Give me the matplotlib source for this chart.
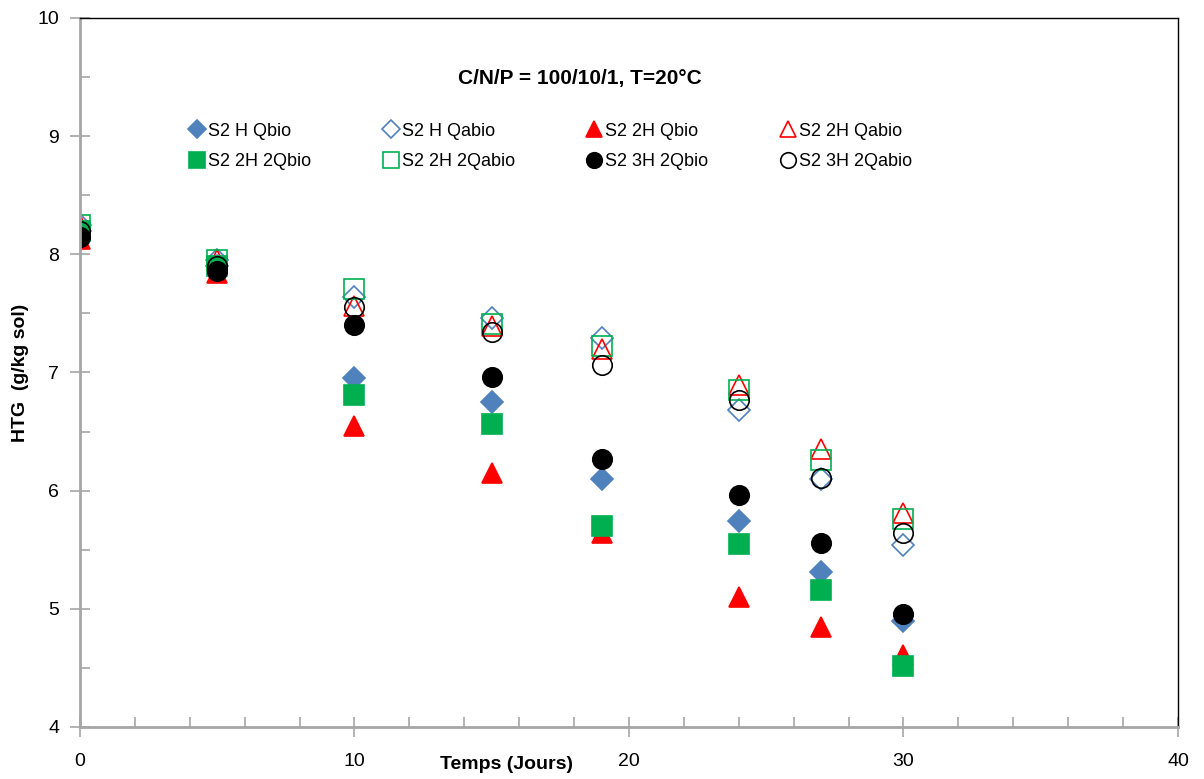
import matplotlib.pyplot as plt
from matplotlib.ticker import MultipleLocator

plt.rcParams['font.family'] = ['Liberation Sans', 'DejaVu Sans']

days = [0, 5, 10, 15, 19, 24, 27, 30]

h_qbio = [8.20, 7.90, 6.95, 6.75, 6.10, 5.74, 5.31, 4.90]
h_qabio = [8.25, 7.95, 7.64, 7.46, 7.29, 6.68, 6.10, 5.54]
h2_qbio = [8.13, 7.84, 6.55, 6.15, 5.64, 5.10, 4.85, 4.61]
h2_qabio = [8.25, 7.95, 7.56, 7.39, 7.20, 6.89, 6.35, 5.81]
h2_2qbio = [8.20, 7.90, 6.81, 6.56, 5.70, 5.55, 5.16, 4.52]
h2_2qabio = [8.25, 7.95, 7.71, 7.41, 7.22, 6.85, 6.26, 5.76]
h3_2qbio = [8.15, 7.86, 7.40, 6.96, 6.27, 5.96, 5.56, 4.96]
h3_2qabio = [8.20, 7.90, 7.55, 7.34, 7.06, 6.77, 6.11, 5.64]

blue = '#4F81BD'
red = '#FF0000'
green = '#00B050'

fig = plt.figure(figsize=(12.04, 7.79), dpi=100)
ax = fig.add_axes([0.0664, 0.0668, 0.912, 0.9102])

series = [
    ('S2 H Qbio', h_qbio, 'D', blue, blue, 11),
    ('S2 H Qabio', h_qabio, 'D', 'white', blue, 11),
    ('S2 2H Qbio', h2_qbio, '^', red, red, 14),
    ('S2 2H Qabio', h2_qabio, '^', 'white', red, 14),
    ('S2 2H 2Qbio', h2_2qbio, 's', green, green, 14),
    ('S2 2H 2Qabio', h2_2qabio, 's', 'white', green, 14),
    ('S2 3H 2Qbio', h3_2qbio, 'o', 'black', 'black', 14),
    ('S2 3H 2Qabio', h3_2qabio, 'o', 'white', 'black', 14),
]

handles = {}
for name, vals, m, fc, ec, ms in series:
    h, = ax.plot(days, vals, linestyle='none', marker=m, markersize=ms,
                 markerfacecolor=fc if fc != 'white' else 'none',
                 markeredgecolor=ec, markeredgewidth=1.2, label=name)
    handles[name] = h

order = ['S2 H Qbio', 'S2 2H 2Qbio', 'S2 H Qabio', 'S2 2H 2Qabio',
         'S2 2H Qbio', 'S2 3H 2Qbio', 'S2 2H Qabio', 'S2 3H 2Qabio']
ax.legend([handles[k] for k in order], order, ncol=4, frameon=False,
          loc='upper left', bbox_to_anchor=(0.084, 0.875), fontsize=13,
          markerscale=0.8, handletextpad=0.1, handlelength=1.0,
          columnspacing=3.9, labelspacing=0.75)

ax.set_xlim(0, 40)
ax.set_ylim(4, 10)
ax.xaxis.set_major_locator(MultipleLocator(10))
ax.xaxis.set_minor_locator(MultipleLocator(2))
ax.yaxis.set_major_locator(MultipleLocator(1))
ax.yaxis.set_minor_locator(MultipleLocator(0.5))

gray = '#A6A6A6'
for s in ['left', 'bottom']:
    ax.spines[s].set_color(gray)
    ax.spines[s].set_linewidth(2)
for s in ['top', 'right']:
    ax.spines[s].set_color('black')
    ax.spines[s].set_linewidth(1)

ax.tick_params(which='major', direction='inout', length=14, width=1.2,
               color=gray, labelsize=14, pad=8)
ax.tick_params(axis='x', which='major', pad=12)
ax.tick_params(which='minor', direction='in', length=7, width=1.2, color=gray)

ax.text(0.455, 0.915, 'C/N/P = 100/10/1, T=20°C', transform=ax.transAxes,
        ha='center', va='center', fontsize=15, fontweight='bold')
fig.text(0.421, 0.018, 'Temps (Jours)', ha='center', va='center',
         fontsize=14, fontweight='bold')
ax.set_ylabel('HTG  (g/kg sol)', fontsize=14, fontweight='bold', labelpad=6)

fig.savefig('out.png', dpi=100)
